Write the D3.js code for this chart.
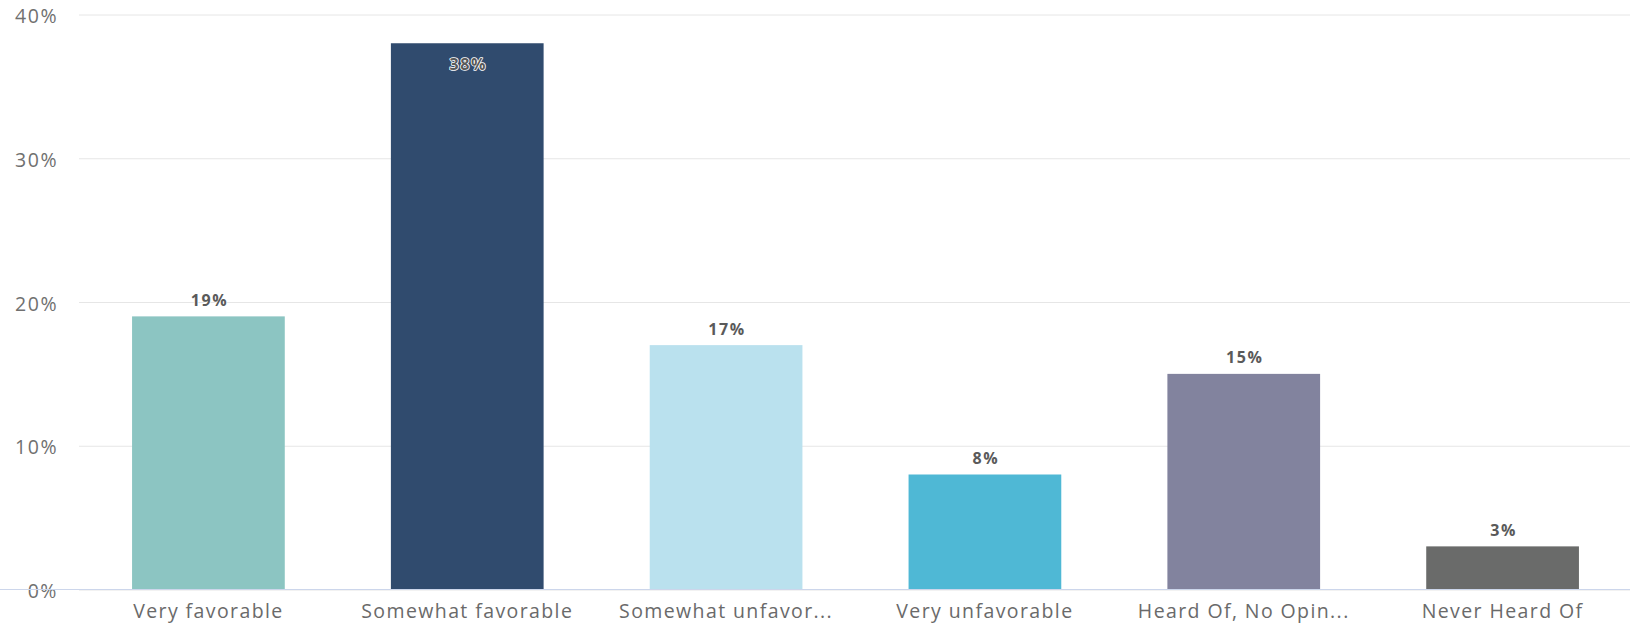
<!DOCTYPE html>
<html>
<head>
<meta charset="utf-8">
<script src="https://cdn.jsdelivr.net/npm/d3@7"></script>
<style>
  html, body { margin: 0; padding: 0; background: #ffffff; }
  svg { display: block; }
</style>
</head>
<body>
<svg id="chart" width="1630" height="623"></svg>
<script>
// ---- data ----
const categories = ["Very favorable", "Somewhat favorable", "Somewhat unfavor...", "Very unfavorable", "Heard Of, No Opin...", "Never Heard Of"];
const values = [19, 38, 17, 8, 15, 3];
const barColors = ["#8CC5C2", "#304B6E", "#BAE1EE", "#4FB8D5", "#82839E", "#6A6B6A"];
const yTickValues = [0, 10, 20, 30, 40];
const yTickLabels = ["0%", "10%", "20%", "30%", "40%"];

// ---- layout ----
const W = 1630, H = 623;
const plotLeft = 79, plotRight = 1632, gridRight = 1630;
const yBottom = 589.5, yTop = 14.5;
const font = "'Open Sans', 'DejaVu Sans', sans-serif";

const svg = d3.select("#chart");

const x = d3.scaleBand()
  .domain(categories)
  .range([plotLeft, plotRight])
  .paddingInner(0.41)
  .paddingOuter(0.205);

const y = d3.scaleLinear()
  .domain([0, 40])
  .range([yBottom, yTop]);

// y axis with gridlines
const yAxis = d3.axisLeft(y)
  .tickValues(yTickValues)
  .tickFormat((d, i) => yTickLabels[i])
  .tickSizeInner(-(gridRight - plotLeft))
  .tickSizeOuter(0)
  .tickPadding(21);

const gy = svg.append("g")
  .attr("transform", `translate(${plotLeft},0)`)
  .call(yAxis);
gy.select(".domain").remove();
gy.selectAll(".tick line")
  .attr("stroke", "#e6e6e6")
  .attr("stroke-width", 1);
gy.selectAll(".tick text")
  .attr("fill", "#707070")
  .attr("dy", null)
  .attr("y", 8)
  .style("font-family", font)
  .style("font-size", "19.5px")
  .style("letter-spacing", "1.5px");

// bars
svg.append("g")
  .selectAll("rect")
  .data(values)
  .join("rect")
  .attr("x", (d, i) => x(categories[i]))
  .attr("y", d => y(d))
  .attr("width", x.bandwidth())
  .attr("height", d => y(0) - y(d))
  .attr("fill", (d, i) => barColors[i]);

// x axis
const xAxis = d3.axisBottom(x).tickSize(0).tickSizeOuter(0);
const gx = svg.append("g")
  .attr("transform", `translate(0,${yBottom})`)
  .call(xAxis);
gx.select(".domain")
  .attr("stroke", "#ccd6eb")
  .attr("d", `M0,0H${gridRight}`);
gx.selectAll(".tick text")
  .attr("y", 618 - yBottom)
  .attr("dy", null)
  .attr("fill", "#6a6a6a")
  .style("font-family", font)
  .style("font-size", "19.5px")
  .style("letter-spacing", "1.4px");

// value labels
svg.append("g")
  .selectAll("text")
  .data(values)
  .join("text")
  .attr("x", (d, i) => x(categories[i]) + x.bandwidth() / 2 + 1)
  .attr("y", d => (y(d) - 32 < yTop) ? y(d) + 27 : y(d) - 10.5)
  .attr("text-anchor", "middle")
  .attr("fill", "#5a5a5a")
  .attr("stroke", "#ffffff")
  .attr("stroke-width", 1.6)
  .attr("stroke-linejoin", "round")
  .style("paint-order", "stroke")
  .style("font-family", font)
  .style("font-weight", "bold")
  .style("font-size", "16px")
  .style("letter-spacing", "1.6px")
  .text(d => d + "%");
</script>
</body>
</html>
